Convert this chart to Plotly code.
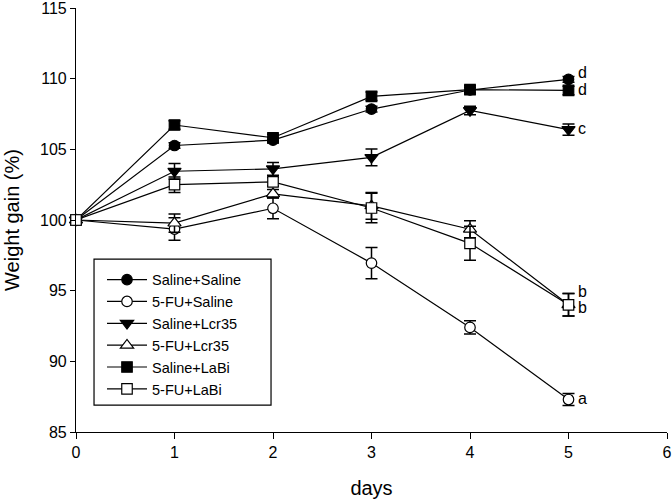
import plotly.graph_objects as go

days = [0, 1, 2, 3, 4, 5]
series_names = ["Saline+Saline", "5-FU+Saline", "Saline+Lcr35", "5-FU+Lcr35", "Saline+LaBi", "5-FU+LaBi"]

saline_saline = [100, 105.27, 105.65, 107.85, 109.2, 109.95]
saline_saline_err = [0.3, 0.2, 0.2, 0.2, 0.2, 0.2]
fu_saline = [100, 99.36, 100.83, 96.95, 92.4, 87.3]
fu_saline_err = [0.3, 0.8, 0.75, 1.1, 0.47, 0.42]
saline_lcr35 = [100, 103.45, 103.62, 104.43, 107.75, 106.4]
saline_lcr35_err = [0.3, 0.55, 0.45, 0.6, 0.3, 0.4]
fu_lcr35 = [100, 99.78, 101.85, 101.0, 99.35, 94.0]
fu_lcr35_err = [0.3, 0.65, 0.3, 0.95, 0.6, 0.8]
saline_labi = [100, 106.72, 105.82, 108.75, 109.22, 109.17]
saline_labi_err = [0.3, 0.3, 0.25, 0.3, 0.3, 0.3]
fu_labi = [100, 102.5, 102.7, 100.85, 98.35, 94.0]
fu_labi_err = [0.3, 0.55, 0.3, 1.05, 1.2, 0.8]

letter_labels = ["d", "d", "c", "b", "b", "a"]
letter_y = [110.45, 109.2, 106.5, 94.95, 93.8, 87.35]

series = [
    (saline_saline, saline_saline_err, "circle"),
    (fu_saline, fu_saline_err, "circle-open"),
    (saline_lcr35, saline_lcr35_err, "triangle-down"),
    (fu_lcr35, fu_lcr35_err, "triangle-up-open"),
    (saline_labi, saline_labi_err, "square"),
    (fu_labi, fu_labi_err, "square-open"),
]

FONT = "Arial, Liberation Sans, sans-serif"

fig = go.Figure()
for name, (vals, errs, sym) in zip(series_names, series):
    open_sym = sym.endswith("open")
    fig.add_trace(go.Scatter(
        x=days, y=vals, name=name, mode="lines+markers",
        line=dict(color="black", width=1.2),
        marker=dict(symbol=sym.replace("-open", "") if open_sym else sym,
                    size=10.5 if "triangle" not in sym else 11.5,
                    color="white" if open_sym else "black",
                    line=dict(color="black", width=1.2)),
        error_y=dict(type="data", array=errs, visible=True, color="black",
                     thickness=1.5, width=6),
        cliponaxis=False,
    ))

for lab, ly in zip(letter_labels, letter_y):
    fig.add_annotation(x=5, y=ly, text=lab, showarrow=False, xanchor="left",
                       yanchor="middle", xshift=7,
                       font=dict(size=16, color="black", family=FONT))

# legend frame
fig.add_shape(type="rect", xref="paper", yref="paper",
              x0=0.0305, x1=0.33, y0=0.0636, y1=0.4075,
              line=dict(color="black", width=1.2), fillcolor="white", layer="above")

fig.update_layout(
    width=672, height=503,
    margin=dict(l=76, r=5, t=8, b=71),
    paper_bgcolor="white", plot_bgcolor="white",
    font=dict(family=FONT, size=16, color="black"),
    showlegend=True,
    legend=dict(x=0.044, y=0.397, xanchor="left", yanchor="top",
                bgcolor="rgba(0,0,0,0)", borderwidth=0,
                font=dict(size=14.5), tracegroupgap=0, itemwidth=40),
    xaxis=dict(range=[0, 6], tickvals=[0, 1, 2, 3, 4, 5, 6], showgrid=False,
               zeroline=False, showline=True, linecolor="black", linewidth=1.2,
               ticks="outside", ticklen=6, tickcolor="black", tickwidth=1.2,
               automargin=False, ticklabeloverflow="allow",
               title=dict(text="days", standoff=20, font=dict(size=20)),
               tickfont=dict(size=16)),
    yaxis=dict(range=[85, 115], tickvals=[85, 90, 95, 100, 105, 110, 115], showgrid=False,
               zeroline=False, showline=True, linecolor="black", linewidth=1.2,
               ticks="outside", ticklen=5, tickcolor="black", tickwidth=1.2,
               automargin=False, ticklabeloverflow="allow",
               title=dict(text="Weight gain (%)", standoff=14, font=dict(size=20)),
               tickfont=dict(size=16)),
)

fig.write_html("out.html", config={"displayModeBar": False},
               post_script="document.body.style.margin='0';document.body.style.padding='0';")
